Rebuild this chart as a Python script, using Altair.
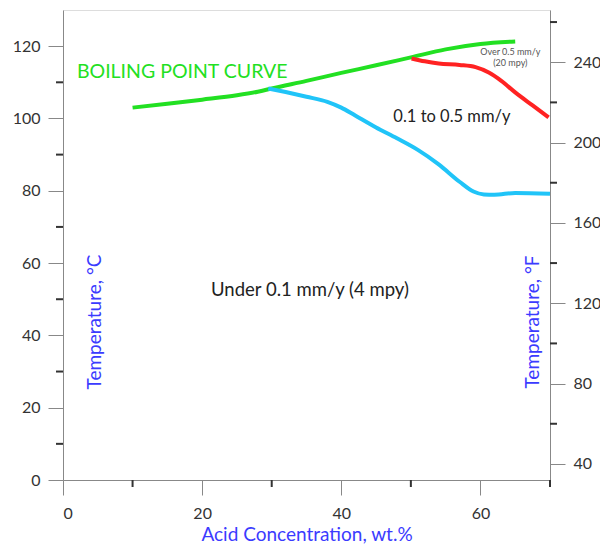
import altair as alt
import pandas as pd

# ---- data (°C vs wt.%) ----
green_x = [10, 15, 20, 25, 28, 30, 35, 40, 45, 50, 55, 60, 65]
green_y = [103.0, 104.1, 105.2, 106.4, 107.4, 108.3, 110.4, 112.6, 114.7, 116.9, 119.1, 120.6, 121.3]

blue_x = [29.5, 32, 35, 38, 40, 42, 45, 48, 51, 54, 57, 59, 60.5, 62, 65, 70]
blue_y = [108.3, 107.3, 106.0, 104.6, 103.0, 100.8, 97.5, 94.5, 91.3, 87.3, 82.5, 79.8, 79.0, 78.9, 79.4, 79.2]

red_x = [50.1, 52, 54, 57, 59.3, 61.2, 63, 65, 67.5, 69.8]
red_y = [116.6, 115.8, 115.2, 114.8, 114.2, 112.7, 110.4, 107.2, 103.6, 100.3]

x_major = [0, 20, 40, 60]
x_minor = [10, 30, 50, 70]
c_major = [0, 20, 40, 60, 80, 100, 120]
c_minor = [10, 30, 50, 70, 90, 110]
f_major = [40, 80, 120, 160, 200, 240]
f_minor = [60, 100, 140, 180, 220, 260]

FONT = "Lato"
BLUE_TXT = "#3b3bff"
AX = "#333333"
W, H = 487, 470

df_g = pd.DataFrame({"x": green_x, "y": green_y})
df_b = pd.DataFrame({"x": blue_x, "y": blue_y})
df_r = pd.DataFrame({"x": red_x, "y": red_y})

xscale = alt.Scale(domain=[0, 70], nice=False, zero=False)
yscale = alt.Scale(domain=[0, 130], nice=False, zero=False)
fscale = alt.Scale(domain=[32, 266], nice=False, zero=False)

x_axis = alt.Axis(
    values=x_major, tickSize=15, labelPadding=10,
    labelFont=FONT, labelFontSize=16, labelColor="#333333",
    title="Acid Concentration, wt.%",
    titleColor=BLUE_TXT, titleFontSize=19, titleFont=FONT,
    titleFontWeight="normal", titlePadding=4, grid=False,
)
y_axis = alt.Axis(
    values=c_major, tickSize=15, labelPadding=8,
    labelFont=FONT, labelFontSize=16, labelColor="#333333",
    title=None, grid=False,
)


def line(df, color):
    return alt.Chart(df).mark_line(color=color, strokeWidth=4, interpolate="monotone").encode(
        x=alt.X("x:Q", scale=xscale, axis=x_axis),
        y=alt.Y("y:Q", scale=yscale, axis=y_axis),
    )


green = line(df_g, "#22e022")
blue = line(df_b, "#20c4f8")
red = line(df_r, "#ff2222")

# minor ticks
xmin = alt.Chart(pd.DataFrame({"x": x_minor})).mark_rule(color=AX, strokeWidth=2).encode(
    x=alt.X("x:Q", scale=xscale, axis=x_axis), y=alt.value(H), y2=alt.value(H + 7))
cmin = alt.Chart(pd.DataFrame({"y": c_minor})).mark_rule(color=AX, strokeWidth=2).encode(
    y=alt.Y("y:Q", scale=yscale, axis=y_axis), x=alt.value(0), x2=alt.value(-7))

labels = pd.DataFrame({
    "x": [2.0, 55.9, 64.3, 64.3, 35.5],
    "y": [112.9, 100.4, 118.4, 115.4, 52.6],
    "t": ["BOILING POINT CURVE", "0.1 to 0.5 mm/y", "Over 0.5 mm/y", "(20 mpy)", "Under 0.1 mm/y (4 mpy)"],
    "c": ["#22e022", "#222222", "#555555", "#555555", "#222222"],
    "s": [19.5, 16.5, 9, 9, 18.5],
    "a": ["left", "center", "center", "center", "center"],
})


def text_layer(row):
    d = labels.iloc[[row]]
    return alt.Chart(d).mark_text(
        font=FONT, fontSize=float(d["s"].iloc[0]), color=d["c"].iloc[0],
        align=d["a"].iloc[0], baseline="middle",
    ).encode(
        x=alt.X("x:Q", scale=xscale, axis=x_axis),
        y=alt.Y("y:Q", scale=yscale, axis=y_axis),
        text="t:N",
    )


texts = [text_layer(i) for i in range(len(labels))]

vt = pd.DataFrame({"x": [4.6, 67.6], "y": [43.7, 43.7], "t": ["Temperature, °C", "Temperature, °F"]})
vtext = alt.Chart(vt).mark_text(
    font=FONT, fontSize=19, color=BLUE_TXT, angle=270, align="center", baseline="middle"
).encode(
    x=alt.X("x:Q", scale=xscale, axis=x_axis),
    y=alt.Y("y:Q", scale=yscale, axis=y_axis),
    text="t:N",
)

left = alt.layer(green, blue, red, xmin, cmin, vtext, *texts)

# right °F axis
f_axis = alt.Axis(orient="right", values=f_major, tickSize=15, labelPadding=8,
                  labelFont=FONT, labelFontSize=16, labelColor="#333333",
                  title=None, grid=False)
right_pts = alt.Chart(pd.DataFrame({"f": [32, 266]})).mark_point(opacity=0).encode(
    y=alt.Y("f:Q", scale=fscale, axis=f_axis))
right_min = alt.Chart(pd.DataFrame({"f": f_minor})).mark_rule(color=AX, strokeWidth=2).encode(
    y=alt.Y("f:Q", scale=fscale, axis=f_axis), x=alt.value(W), x2=alt.value(W + 7))
right = alt.layer(right_pts, right_min)

chart = alt.layer(left, right).resolve_scale(y="independent").properties(
    width=W, height=H,
    autosize=alt.AutoSizeParams(type="none"),
    padding={"left": 55, "top": 2, "right": 50, "bottom": 75},
).configure_view(
    stroke=AX, strokeWidth=2
).configure_axis(
    domainColor=AX, domainWidth=2, tickColor=AX, tickWidth=2,
).configure(background="white")

chart.save("out.html", embed_options={"renderer": "svg", "actions": False})
